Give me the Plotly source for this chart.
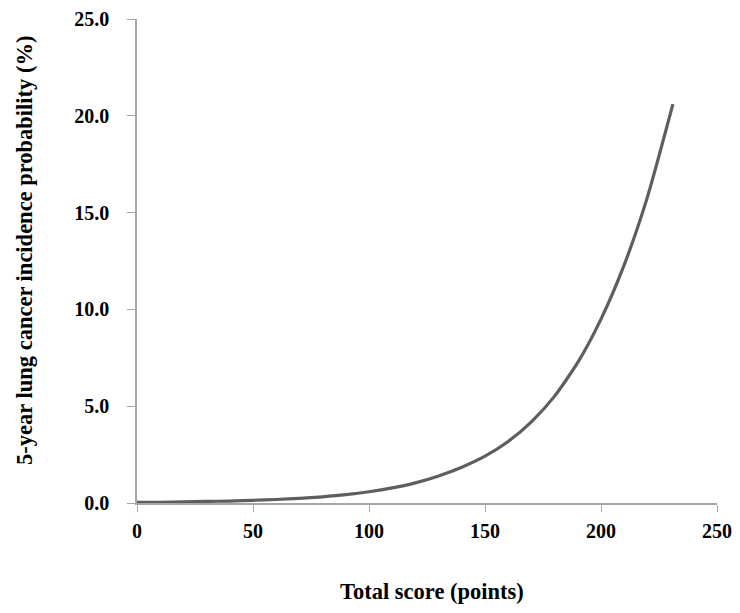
import plotly.graph_objects as go

# Total score (points) and 5-year incidence probability (%)
total_score = [0, 10, 20, 30, 40, 50, 60, 70, 80, 90, 100, 110, 120, 130, 140,
               150, 160, 170, 180, 190, 200, 210, 220, 231]
probability = [0.03, 0.04, 0.06, 0.08, 0.10, 0.14, 0.18, 0.24, 0.32, 0.43, 0.58,
               0.78, 1.04, 1.40, 1.85, 2.42, 3.18, 4.19, 5.52, 7.26, 9.50,
               12.3, 15.8, 20.6]

x_ticks = [0, 50, 100, 150, 200, 250]
y_ticks = [0, 5, 10, 15, 20, 25]

x_title = "Total score (points)"
y_title = "5-year lung cancer incidence probability (%)"

FONT = "Liberation Serif, Times New Roman, serif"
AXIS_COLOR = "#a6a6a6"

fig = go.Figure()
fig.add_trace(go.Scatter(
    x=total_score, y=probability, mode="lines",
    line=dict(color="#5e5e5e", width=3.2, shape="spline", smoothing=0.6),
    showlegend=False, hoverinfo="x+y",
))

# page body adds an 8px offset, so the figure is 8px smaller with margins shifted
fig.update_layout(
    width=732, height=605,
    margin=dict(l=129, r=23, t=11, b=110),
    paper_bgcolor="white", plot_bgcolor="white",
    font=dict(family=FONT, color="black"),
)

fig.update_xaxes(
    range=[0, 250], tickvals=x_ticks, ticktext=[str(v) for v in x_ticks],
    showgrid=False, zeroline=False,
    showline=True, linecolor=AXIS_COLOR, linewidth=1.5,
    ticks="outside", ticklen=7, tickcolor=AXIS_COLOR, tickwidth=1,
    tickfont=dict(family=FONT, size=20, weight="bold", color="black"),
    ticklabelstandoff=2,
    automargin=False,
)
fig.update_yaxes(
    range=[0, 25], tickvals=y_ticks, ticktext=[f"{v:.1f}" for v in y_ticks],
    showgrid=False, zeroline=False,
    showline=True, linecolor=AXIS_COLOR, linewidth=1.5,
    ticks="outside", ticklen=8, tickcolor=AXIS_COLOR, tickwidth=1,
    tickfont=dict(family=FONT, size=20, weight="bold", color="black"),
    ticklabelstandoff=14,
    automargin=False,
)

fig.add_annotation(
    text=x_title, xref="paper", yref="paper", x=0.509, y=-0.182,
    xanchor="center", yanchor="middle", showarrow=False,
    font=dict(family=FONT, size=22.5, weight="bold", color="black"),
)
fig.add_annotation(
    text=y_title, xref="paper", yref="paper", x=-0.193, y=0.521,
    xanchor="center", yanchor="middle", showarrow=False, textangle=-90,
    font=dict(family=FONT, size=22.5, weight="bold", color="black"),
)

fig.write_html("out.html")
